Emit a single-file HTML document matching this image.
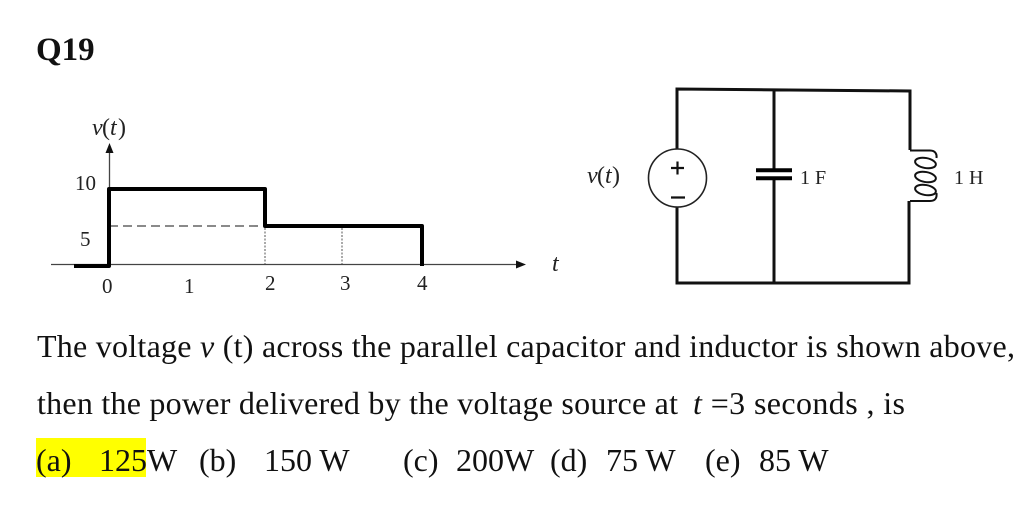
<!DOCTYPE html>
<html><head><meta charset="utf-8"><style>
html,body{margin:0;padding:0;background:#fff;width:1025px;height:521px;overflow:hidden}
svg{display:block}
text{font-family:"Liberation Serif",serif;fill:#111}
.m{font-size:32px}
.s{font-size:21px;fill:#222}
.v{font-size:24px;fill:#222}
.u{font-size:20px;fill:#222}
</style></head><body>
<svg width="1025" height="521" viewBox="0 0 1025 521" xmlns="http://www.w3.org/2000/svg">
<rect width="1025" height="521" fill="#fff"/>
<rect x="36" y="438" width="110" height="39" fill="#ffff00"/>
<text x="36" y="60" font-size="33" font-weight="bold">Q19</text>
<g style="filter:blur(.35px)">
<!-- graph -->
<path d="M51 264.500H518M109.500 264V150" stroke="#444" stroke-width="1.300" fill="none"/>
<path d="M516 260.500L526 264.500L516 268.500ZM109.500 143L105.500 153H113.500Z" fill="#111"/>
<path d="M109 226H263" stroke="#444" stroke-width="1.300" stroke-dasharray="9 5" fill="none"/>
<path d="M265 228V264M342 228V264" stroke="#555" stroke-width="1" stroke-dasharray="2 1.500" fill="none"/>
<path d="M74 266H109V189H265V226H422V266" stroke="#000" stroke-width="4" fill="none" stroke-linejoin="round"/>
<text class="v" x="92" y="135" font-style="italic">v</text><text class="v" x="102" y="135">(</text><text class="v" x="110" y="135" font-style="italic">t</text><text class="v" x="118" y="135">)</text>
<text class="s" x="75" y="190">10</text>
<text class="s" x="80" y="246">5</text>
<text class="s" x="102" y="293">0</text>
<text class="s" x="184" y="293">1</text>
<text class="s" x="265" y="290">2</text>
<text class="s" x="340" y="290">3</text>
<text class="s" x="417" y="290">4</text>
<text class="v" x="552" y="271" font-style="italic">t</text>
<!-- circuit -->
<path d="M677 149V89L910 91V150M677 207V283H909V201M774 90V170M774 178V283" stroke="#111" stroke-width="3" fill="none"/>
<circle cx="677.500" cy="178" r="29" stroke="#222" stroke-width="1.600" fill="#fff"/>
<path d="M671 168H684M677.500 161.500V174.500M671 197.500H685" stroke="#111" stroke-width="2.200" fill="none"/>
<path d="M756 170.300H792M756 178.200H792" stroke="#000" stroke-width="4" fill="none"/>
<path d="M910 150.500H930C936 150.500 937 155 936.500 158M910 201H930C936 201 937 197 936.500 193" stroke="#111" stroke-width="2" fill="none"/>
<g stroke="#111" stroke-width="2" fill="none">
<ellipse cx="925.500" cy="163" rx="10.500" ry="5" transform="rotate(10 925.500 163)"/>
<ellipse cx="925.500" cy="177" rx="10.500" ry="5" transform="rotate(10 925.500 177)"/>
<ellipse cx="925.500" cy="190" rx="10.500" ry="5" transform="rotate(10 925.500 190)"/>
</g>
<text class="v" x="587" y="183" font-style="italic">v</text><text class="v" x="597" y="183">(</text><text class="v" x="605" y="183" font-style="italic">t</text><text class="v" x="612" y="183">)</text>
<text class="u" x="800" y="184">1 F</text>
<text class="u" x="954" y="184">1 H</text>
<!-- text -->
<text class="m" x="37" y="357" textLength="978" lengthAdjust="spacing">The voltage <tspan font-style="italic">v</tspan> (t) across the parallel capacitor and inductor is shown above,</text>
<text class="m" x="37" y="414" textLength="641" lengthAdjust="spacing">then the power delivered by the voltage source at</text>
<text class="m" x="693" y="414" textLength="212" lengthAdjust="spacing"><tspan font-style="italic">t</tspan> =3 seconds , is</text>
<text class="m" x="36" y="471">(a)</text>
<text class="m" x="99" y="471">125W</text>
<text class="m" x="199" y="471">(b)</text>
<text class="m" x="264" y="471">150 W</text>
<text class="m" x="403" y="471">(c)</text>
<text class="m" x="456" y="471">200W</text>
<text class="m" x="550" y="471">(d)</text>
<text class="m" x="606" y="471">75 W</text>
<text class="m" x="705" y="471">(e)</text>
<text class="m" x="759" y="471">85 W</text>
</g>
</svg>
</body></html>
